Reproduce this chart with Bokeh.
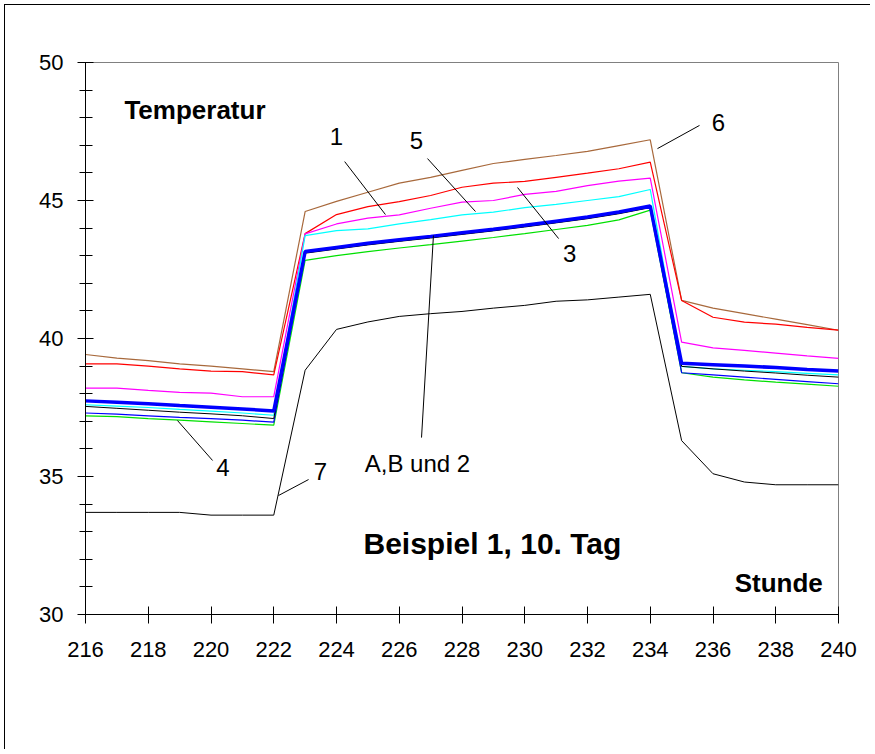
from bokeh.plotting import figure
from bokeh.models import Range1d, SingleIntervalTicker
from bokeh.core.properties import value
from bokeh.embed import file_html
from bokeh.resources import INLINE

hours = list(range(216, 241))

series7 = [33.7, 33.7, 33.7, 33.7, 33.6, 33.6, 33.6,
           38.85, 40.33, 40.6, 40.8, 40.9, 40.98, 41.1, 41.2, 41.35, 41.4, 41.5, 41.6,
           36.3, 35.1, 34.8, 34.7, 34.7, 34.7]
series6 = [39.42, 39.29, 39.2, 39.08, 39.0, 38.9, 38.8,
           44.6, 44.97, 45.3, 45.63, 45.84, 46.09, 46.34, 46.49, 46.63, 46.78, 46.99, 47.2,
           41.38, 41.1, 40.9, 40.7, 40.5, 40.3]
series1 = [39.08, 39.08, 39.0, 38.9, 38.82, 38.8, 38.68,
           43.8, 44.49, 44.78, 44.96, 45.18, 45.48, 45.63, 45.69, 45.84, 45.99, 46.15, 46.39,
           41.38, 40.77, 40.59, 40.52, 40.4, 40.3]
series5 = [38.2, 38.2, 38.12, 38.05, 38.02, 37.89, 37.89,
           43.79, 44.15, 44.36, 44.48, 44.72, 44.94, 45.0, 45.22, 45.33, 45.54, 45.7, 45.81,
           39.87, 39.66, 39.57, 39.47, 39.37, 39.28]
series3 = [37.6, 37.55, 37.5, 37.43, 37.37, 37.3, 37.22,
           43.73, 43.91, 43.97, 44.15, 44.31, 44.48, 44.58, 44.74, 44.86, 45.0, 45.14, 45.4,
           38.99, 38.9, 38.85, 38.8, 38.74, 38.68]
seriesA = [37.74, 37.69, 37.64, 37.57, 37.51, 37.45, 37.37,
           43.15, 43.3, 43.45, 43.58, 43.7, 43.83, 43.96, 44.1, 44.25, 44.4, 44.58, 44.8,
           39.1, 39.05, 39.0, 38.95, 38.88, 38.82]
seriesB = [37.54, 37.47, 37.4, 37.33, 37.27, 37.2, 37.1,
           43.09, 43.24, 43.39, 43.52, 43.64, 43.77, 43.9, 44.04, 44.19, 44.34, 44.52, 44.74,
           38.99, 38.9, 38.82, 38.75, 38.67, 38.6]
series2 = [37.3, 37.26, 37.2, 37.14, 37.1, 37.04, 36.97,
           43.11, 43.26, 43.41, 43.54, 43.66, 43.79, 43.92, 44.06, 44.21, 44.36, 44.54, 44.76,
           38.76, 38.68, 38.6, 38.52, 38.44, 38.36]
series4 = [37.2, 37.17, 37.1, 37.04, 36.98, 36.92, 36.86,
           42.83, 43.0, 43.15, 43.28, 43.4, 43.53, 43.66, 43.8, 43.95, 44.1, 44.3, 44.65,
           38.76, 38.6, 38.5, 38.42, 38.35, 38.27]

label_texts = ["1", "5", "3", "6", "4", "7", "A,B und 2"]
label_x = [224.0, 226.55, 231.43, 236.17, 220.38, 223.49, 226.58]
label_y = [47.32, 47.18, 43.08, 47.83, 35.33, 35.19, 35.47]

lead_x0 = [224.26, 226.90, 229.77, 235.57, 218.93, 223.11, 227.09]
lead_y0 = [46.41, 46.52, 45.47, 47.72, 37.03, 34.89, 43.73]
lead_x1 = [225.56, 228.43, 231.08, 234.23, 220.05, 222.15, 226.71]
lead_y1 = [44.49, 44.60, 43.62, 46.88, 35.58, 34.31, 36.41]

FONT = "Liberation Sans"

p = figure(width=866, height=745, output_backend="svg", toolbar_location=None,
           x_range=Range1d(216, 240), y_range=Range1d(30, 50),
           min_border_left=80, min_border_right=33, min_border_top=57, min_border_bottom=136,
           styles={"border-left": "1px solid black", "border-top": "1px solid black",
                   "margin-left": "4px", "margin-top": "4px"})
p.outline_line_color = "#808080"
p.outline_line_width = 1
p.xgrid.visible = False
p.ygrid.visible = False
p.background_fill_color = "white"
p.border_fill_color = "white"

p.xaxis.ticker = SingleIntervalTicker(interval=2, num_minor_ticks=0)
p.yaxis.ticker = SingleIntervalTicker(interval=5, num_minor_ticks=5)
for ax in (p.xaxis, p.yaxis):
    ax.axis_line_color = "black"
    ax.major_tick_line_color = "black"
    ax.minor_tick_line_color = "black"
    ax.major_label_text_font = FONT
    ax.major_label_text_font_size = "22px"
    ax.major_label_text_color = "black"
p.xaxis.major_tick_in = 8
p.xaxis.major_tick_out = 9
p.xaxis.minor_tick_line_color = None
p.xaxis.major_label_standoff = 18
p.yaxis.major_tick_in = 8
p.yaxis.major_tick_out = 8
p.yaxis.minor_tick_in = 7
p.yaxis.minor_tick_out = 6
p.yaxis.major_label_standoff = 14

p.line(hours, series7, line_color="black", line_width=1)
p.line(hours, series6, line_color="#A8693C", line_width=1.2)
p.line(hours, series1, line_color="#FF0000", line_width=1.2)
p.line(hours, series5, line_color="#FF00FF", line_width=1.2)
p.line(hours, series3, line_color="#00FFFF", line_width=1.2)
p.line(hours, series4, line_color="#00E000", line_width=1.2)
p.line(hours, series2, line_color="#0000FF", line_width=1.2)
p.line(hours, seriesB, line_color="black", line_width=1)
p.line(hours, seriesA, line_color="#0000FF", line_width=3.5)

p.segment(x0=lead_x0, y0=lead_y0, x1=lead_x1, y1=lead_y1, line_color="black", line_width=1)

p.text(x=label_x, y=label_y, text=label_texts, text_font=value(FONT),
       text_font_size="24px", text_align="center", text_baseline="alphabetic",
       text_color="black")

p.text(x=[217.24], y=[48.27], text=["Temperatur"], text_font=value(FONT),
       text_font_size="26px", text_font_style="bold", text_align="left",
       text_baseline="alphabetic", text_color="black")
p.text(x=[236.69], y=[31.13], text=["Stunde"], text_font=value(FONT),
       text_font_size="26px", text_font_style="bold", text_align="left",
       text_baseline="alphabetic", text_color="black")
p.text(x=[224.86], y=[32.56], text=["Beispiel 1, 10. Tag"], text_font=value(FONT),
       text_font_size="30px", text_font_style="bold", text_align="left",
       text_baseline="alphabetic", text_color="black")

open("out.html", "w").write(file_html(p, INLINE))
